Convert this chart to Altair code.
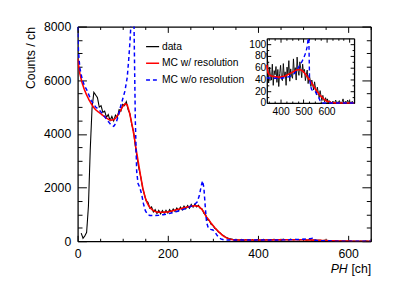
import altair as alt
import pandas as pd

FONT = "Liberation Sans"

series_names = ["data", "MC w/ resolution", "MC w/o resolution"]
series_colors = ["black", "red", "blue"]
series_dashes = [[1, 0], [1, 0], [4, 3]]

# measured data, 4-channel bins starting at ch 8
data_first_ch = 8
data_step = 4
data_counts = [
    300, 110, 200, 330, 1300, 3400, 4950, 5550, 5450,
    5350, 5000, 5050, 4800, 4850, 4620, 4720, 4500, 4650, 4480,
    4700, 4620, 4900, 4850, 5100, 5050, 5200, 4900, 4750, 4350,
    4100, 3550, 3100, 2700, 2400, 2000, 1750, 1500, 1450, 1230,
    1280, 1090, 1180, 1030, 1150, 1020, 1140, 1040, 1150, 1050,
    1180, 1080, 1200, 1110, 1240, 1140, 1270, 1170, 1310, 1210,
    1330, 1230, 1370, 1270, 1380, 1280, 1340, 1220, 1200, 1040,
    980, 800, 770, 630, 590, 480, 440, 350, 310, 240,
    210, 150, 125, 90, 85,
    70, 34, 61, 45, 39, 66, 30, 55, 48, 62,
    35, 57, 28, 50, 64, 41, 38, 67, 44, 53,
    30, 61, 49, 72, 37, 58, 46, 42, 75, 51,
    60, 39, 78, 55, 47, 70, 58, 43, 66, 52,
    57, 38, 49, 56, 33, 47, 42, 28, 39, 31,
    22, 36, 26, 14, 27, 18, 9, 21, 12, 4,
    13, 6, 2, 9, 3, 7, 0, 4, 2, 1,
    0, 3, 0, 1, 5, 0, 2, 0, 4, 1,
    0, 2, 7, 0, 1, 3, 0, 5, 1, 0,
    2, 0, 3, 0,
]

# MC with resolution
res_ch = [0, 5, 10, 15, 20, 25, 30, 35, 40, 45, 50, 55, 60, 65, 70, 75, 80, 85, 90, 95,
          100, 105, 110, 115, 120, 125, 130, 135, 140, 145, 150, 155, 160, 165, 170, 175,
          180, 185, 190, 200, 210, 220, 230, 240, 250, 260, 265, 270, 275, 280, 285, 290,
          295, 300, 305, 310, 315, 320, 325, 330, 335, 340, 345, 350, 360, 370, 380, 390,
          400, 410, 420, 430, 440, 450, 460, 470, 480, 490, 500, 510, 520, 530, 540, 550,
          560, 570, 580, 590, 600, 610, 620, 630, 640, 660, 680, 700, 720]
res_counts = [6800, 6250, 5900, 5650, 5450, 5280, 5130, 5000, 4900, 4830, 4770, 4700, 4640,
              4580, 4530, 4510, 4530, 4600, 4720, 4870, 5020, 5120, 5080, 4800, 4400, 3950,
              3400, 2900, 2400, 1950, 1620, 1400, 1260, 1180, 1120, 1090, 1080, 1080, 1080,
              1090, 1130, 1180, 1220, 1260, 1300, 1320, 1315, 1280, 1200, 1080, 920, 820,
              700, 590, 490, 400, 320, 240, 175, 125, 90, 65, 52, 48, 46, 45, 44, 44,
              44, 45, 46, 48, 50, 52, 54, 56, 57, 56, 53, 48, 42, 37, 31, 25,
              19, 14, 10, 6, 3.5, 2, 1, 0.5, 0.2, 0, 0, 0, 0]

# MC without resolution
nores_ch = [0, 2, 5, 10, 15, 20, 25, 30, 35, 40, 45, 50, 55, 60, 65, 70, 75, 80, 85, 90,
            95, 100, 105, 110, 113, 116, 119, 122, 125, 128, 131, 134, 138, 142, 146, 150,
            155, 160, 170, 180, 190, 200, 210, 220, 230, 240, 250, 260, 265, 270, 274, 277,
            280, 283, 286, 290, 295, 300, 305, 310, 315, 320, 325, 330, 340, 360, 380, 400,
            420, 440, 460, 470, 480, 490, 500, 510, 516, 520, 523, 526, 530, 535, 540, 550,
            558, 565, 572, 580, 600, 650, 700, 720]
nores_counts = [8000, 7050, 6450, 6050, 5800, 5650, 5450, 5250, 5120, 5000, 4940, 4850, 4750,
                4640, 4520, 4420, 4320, 4280, 4400, 4650, 5000, 5300, 5600, 6100, 6700, 7400,
                8300, 9300, 8200, 4500, 2600, 2150, 2000, 1750, 1400, 1150, 1000, 960, 960,
                970, 990, 1020, 1060, 1110, 1160, 1220, 1290, 1380, 1460, 1700, 2050, 2250,
                2000, 1300, 700, 480, 440, 420, 330, 200, 110, 70, 52, 46, 43, 42, 42, 42,
                43, 45, 50, 55, 62, 68, 76, 86, 96, 112, 130, 45, 30, 23, 21, 20,
                15, 10, 4, 0, 0, 0, 0, 0]

main_x_domain = [0, 650]
main_y_domain = [0, 8000]
inset_x_domain = [340, 720]
inset_y_domain = [0, 110]

W, H = 299, 219
IX0, IX1 = 193, 282   # inset x pixel range inside plot
IY0, IY1 = 78, 12     # inset y pixel range (bottom, top)

df_data = pd.DataFrame({
    "ch": [data_first_ch + data_step * i for i in range(len(data_counts))],
    "counts": data_counts,
    "series": series_names[0],
})
df_res = pd.DataFrame({"ch": res_ch, "counts": res_counts, "series": series_names[1]})
df_nores = pd.DataFrame({"ch": nores_ch, "counts": nores_counts, "series": series_names[2]})

legend = alt.Legend(
    orient="none", legendX=69, legendY=13, direction="vertical", title=None,
    symbolType="stroke", symbolSize=177, symbolStrokeWidth=1.5,
    labelFontSize=10.5, labelFont=FONT, labelOffset=2, rowPadding=4, padding=0,
)
color_enc = alt.Color("series:N", scale=alt.Scale(domain=series_names, range=series_colors), legend=legend)
dash_enc = alt.StrokeDash("series:N", scale=alt.Scale(domain=series_names, range=series_dashes), legend=legend)


def tick_size(major_every, major, minor):
    return {"condition": {"test": f"datum.value % {major_every} === 0", "value": major}, "value": minor}


x_tick_vals = list(range(0, 651, 50))
y_tick_vals = list(range(0, 8001, 500))
ix_tick_vals = list(range(350, 701, 25))
iy_tick_vals = list(range(0, 101, 10))

common_tick = dict(labels=False, domain=True, domainWidth=1.3, domainColor="black",
                   ticks=True, tickWidth=1, tickColor="black", grid=False)

ax_x_labels = alt.Axis(orient="bottom", values=[0, 200, 400, 600], ticks=False, tickSize=0,
                       domain=False, grid=False, labelPadding=7, labelFontSize=12.5, format="d",
                       labelFlush=False, labelOverlap=False,
                       title="[ch]", titleFontSize=12.5, titleFontWeight="normal",
                       titleX=W, titleY=32, titleAlign="right", titleBaseline="alphabetic")
ax_y_labels = alt.Axis(orient="left", values=[0, 2000, 4000, 6000, 8000], ticks=False, tickSize=0,
                       domain=False, grid=False, labelPadding=7, labelFontSize=12.5, format="d",
                       labelFlush=False, labelOverlap=False,
                       title="Counts / ch", titleFontSize=12.5, titleFontWeight="normal",
                       titleX=-44, titleY=0, titleAlign="right", titleBaseline="alphabetic")
ax_x_bottom_in = alt.Axis(orient="top", offset=-H, values=x_tick_vals,
                          tickSize=tick_size(200, 6, 3), title=None, **common_tick)
ax_y_left_in = alt.Axis(orient="right", offset=-W, values=y_tick_vals,
                        tickSize=tick_size(2000, 9, 4.5), title=None, **common_tick)
ax_x_top_in = alt.Axis(orient="bottom", offset=-H, values=x_tick_vals,
                       tickSize=tick_size(200, 6, 3),
                       title="PH", titleFontSize=12.5, titleFontStyle="italic", titleFontWeight="normal",
                       titleX=275, titleY=251, titleAlign="right", titleBaseline="alphabetic",
                       **common_tick)
ax_y_right_in = alt.Axis(orient="left", offset=-W, values=y_tick_vals,
                         tickSize=tick_size(2000, 9, 4.5), title=None, **common_tick)

ax_ix_labels = alt.Axis(orient="bottom", offset=-(H - IY0), values=[400, 500, 600], ticks=False,
                        tickSize=0, domain=True, domainWidth=1.3, domainColor="black", grid=False,
                        labelPadding=3.5, labelFontSize=10.5, labelFlush=False, labelOverlap=False,
                        title=None)
ax_iy_labels = alt.Axis(orient="left", offset=-IX0, values=[0, 20, 40, 60, 80, 100], ticks=False,
                        tickSize=0, domain=True, domainWidth=1.3, domainColor="black", grid=False,
                        labelPadding=1, labelFontSize=10.5, labelFlush=False, labelOverlap=False,
                        title=None)
inset_tick = dict(labels=False, domain=False, ticks=True, tickWidth=1, tickColor="black", grid=False, title=None)
ax_ix_bottom_in = alt.Axis(orient="top", offset=-IY0, values=ix_tick_vals,
                           tickSize=tick_size(100, 4, 2), **inset_tick)
ax_iy_left_in = alt.Axis(orient="right", offset=-(W - IX0), values=iy_tick_vals,
                         tickSize=tick_size(20, 4, 2), **inset_tick)
inset_frame = dict(inset_tick, domain=True, domainWidth=1.3, domainColor="black")
ax_ix_top_in = alt.Axis(orient="bottom", offset=-(H - IY1), values=ix_tick_vals,
                        tickSize=tick_size(100, 4, 2), **inset_frame)
ax_iy_right_in = alt.Axis(orient="left", offset=-IX1, values=iy_tick_vals,
                          tickSize=tick_size(20, 4, 2), **inset_frame)

main_xs = alt.Scale(domain=main_x_domain, nice=False, zero=False)
main_ys = alt.Scale(domain=main_y_domain, nice=False, zero=False)
inset_xs = alt.Scale(domain=inset_x_domain, range=[IX0, IX1], nice=False, zero=False)
inset_ys = alt.Scale(domain=inset_y_domain, range=[IY0, IY1], nice=False, zero=False, clamp=True)


def main_layer(df, width, xaxis, yaxis):
    return alt.Chart(df).mark_line(strokeWidth=width, clip=True).encode(
        x=alt.X("ch:Q", scale=main_xs, axis=xaxis),
        y=alt.Y("counts:Q", scale=main_ys, axis=yaxis),
        color=color_enc,
        strokeDash=dash_enc,
        order="ch:Q",
    )


def inset_layer(df, color, width, xaxis, yaxis, dash=None):
    kw = dict(strokeWidth=width, color=color)
    if dash is not None:
        kw["strokeDash"] = dash
    return alt.Chart(df).transform_filter(
        f"datum.ch >= {inset_x_domain[0]} && datum.ch <= {inset_x_domain[1]}"
    ).mark_line(**kw).encode(
        x=alt.X("ch:Q", scale=inset_xs, axis=xaxis),
        y=alt.Y("counts:Q", scale=inset_ys, axis=yaxis),
        order="ch:Q",
    )


A = main_layer(df_data, 1.1, ax_x_labels, ax_y_labels)
B = main_layer(df_res, 1.6, ax_x_bottom_in, ax_y_left_in)
C = main_layer(df_nores, 1.5, ax_x_top_in, ax_y_right_in)
D = inset_layer(df_data, "black", 0.9, ax_ix_labels, ax_iy_labels)
E = inset_layer(df_res, "red", 1.6, ax_ix_bottom_in, ax_iy_left_in)
F = inset_layer(df_nores, "blue", 1.4, ax_ix_top_in, ax_iy_right_in, dash=[4, 3])

chart = alt.layer(A, B, C, D, E, F).resolve_scale(
    x="independent", y="independent"
).resolve_axis(
    x="independent", y="independent"
).properties(
    width=W, height=H,
    padding={"left": 71, "top": 16, "right": 37, "bottom": 54},
    autosize=alt.AutoSizeParams(type="none"),
).configure_view(stroke=None).configure_axis(
    labelFont=FONT, titleFont=FONT, labelColor="black", titleColor="black"
).configure_legend(labelFont=FONT, labelColor="black")

chart.save("out.html", embed_options={"renderer": "svg", "actions": False})
